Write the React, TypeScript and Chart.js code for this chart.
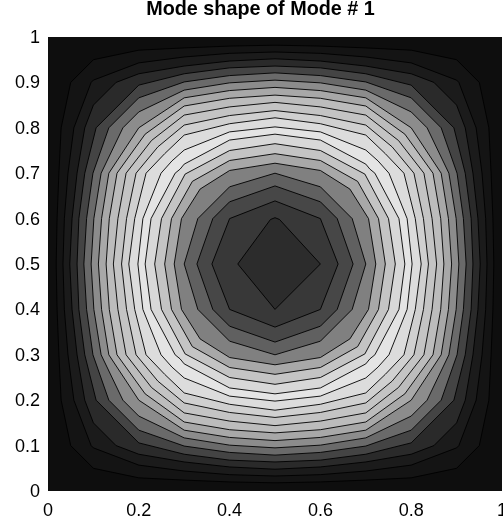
import React, { useEffect, useRef } from "react";
import { Chart, registerables } from "chart.js";

Chart.register(...registerables);

// Contour vertices, one octant of each loop, [x, y] in data units.
const outer01 = [[0.5, 0.982], [0.4, 0.98], [0.3, 0.976], [0.2, 0.971], [0.1, 0.95]];
const outer02 = [[0.5, 0.967], [0.4, 0.964], [0.3, 0.956], [0.2, 0.943], [0.1, 0.905]];
const outer03 = [[0.5, 0.952], [0.4, 0.947], [0.3, 0.936], [0.2, 0.919], [0.15, 0.9]];
const outer04 = [[0.5, 0.936], [0.4, 0.932], [0.3, 0.919], [0.2, 0.894]];
const outer05 = [[0.5, 0.921], [0.4, 0.915], [0.3, 0.901], [0.2, 0.866]];
const outer06 = [[0.5, 0.905], [0.4, 0.899], [0.3, 0.883], [0.2, 0.835]];
const outer07 = [[0.5, 0.889], [0.4, 0.882], [0.3, 0.866], [0.2, 0.8]];
const outer08 = [[0.5, 0.872], [0.4, 0.865], [0.3, 0.848], [0.214, 0.786]];
const outer09 = [[0.5, 0.856], [0.4, 0.846], [0.3, 0.828], [0.228, 0.772]];
const outer10 = [[0.5, 0.838], [0.4, 0.827], [0.3, 0.806], [0.242, 0.758]];
const outer11 = [[0.5, 0.822], [0.4, 0.809], [0.3, 0.784], [0.257, 0.743]];
const outer12 = [[0.5, 0.802], [0.4, 0.791], [0.3, 0.751], [0.273, 0.727]];
const inner12 = [[0.5, 0.786], [0.4, 0.773], [0.3, 0.72], [0.291, 0.709]];
const inner11 = [[0.5, 0.765], [0.4, 0.75], [0.302, 0.698]];
const inner10 = [[0.5, 0.743], [0.4, 0.728], [0.318, 0.682]];
const inner09 = [[0.5, 0.722], [0.4, 0.706], [0.335, 0.665]];
const inner08 = [[0.5, 0.7], [0.4, 0.67]];
const inner07 = [[0.5, 0.672], [0.4, 0.637]];
const inner06 = [[0.5, 0.639], [0.4, 0.6]];
const centreDiamond = [[0.49, 0.598], [0.5, 0.602], [0.51, 0.598], [0.6, 0.5], [0.5, 0.4], [0.418, 0.5], [0.49, 0.598]];

const outerLoops = [outer01, outer02, outer03, outer04, outer05, outer06, outer07, outer08, outer09, outer10, outer11, outer12];
const innerLoops = [inner12, inner11, inner10, inner09, inner08, inner07, inner06];

const baseBand = "#0e0e0e";
const outerBands = ["#141414", "#1b1b1b", "#2a2a2a", "#444444", "#6a6a6a", "#8c8c8c", "#a8a8a8", "#bcbcbc", "#c4c4c4", "#d0d0d0", "#dcdcdc", "#e4e4e4"];
const innerBands = ["#d8d8d8", "#c4c4c4", "#a8a8a8", "#808080", "#606060", "#474747", "#383838"];
const diamondBand = "#2c2c2c";
const titleText = "Mode shape of Mode # 1";
const xTicks = [0, 0.2, 0.4, 0.6, 0.8, 1];
const yTicks = [0, 0.1, 0.2, 0.3, 0.4, 0.5, 0.6, 0.7, 0.8, 0.9, 1];

type P = { x: number; y: number };

function fullLoop(octant: number[][]): P[] {
  const first = octant.map(([x, y]) => ({ x, y }));
  const second = octant.map(([x, y]) => ({ x: 1 - y, y: 1 - x })).reverse();
  const q = [...first, ...second];
  const quarter = q.filter((p, i) => i === 0 || Math.abs(p.x - q[i - 1].x) + Math.abs(p.y - q[i - 1].y) > 1e-9);
  return [
    ...quarter,
    ...[...quarter].reverse().map((p) => ({ x: p.x, y: 1 - p.y })),
    ...quarter.map((p) => ({ x: 1 - p.x, y: 1 - p.y })),
    ...[...quarter].reverse().map((p) => ({ x: 1 - p.x, y: p.y })),
  ];
}

const makeSet = (data: P[], color: string, label: string) => ({
  label,
  data,
  showLine: true,
  pointRadius: 0,
  borderColor: "#000000",
  borderWidth: 0.9,
  backgroundColor: color,
  fill: "shape",
  tension: 0,
});

export default function App() {
  const ref = useRef<HTMLCanvasElement>(null);
  useEffect(() => {
    const painted = [
      ...outerLoops.map((o, i) => makeSet(fullLoop(o), outerBands[i], `outer ${i + 1}`)),
      ...innerLoops.map((o, i) => makeSet(fullLoop(o), innerBands[i], `inner ${i + 1}`)),
      makeSet(centreDiamond.map(([x, y]) => ({ x, y })), diamondBand, "centre"),
    ];
    // Chart.js paints the last dataset first.
    const datasets = [...painted].reverse();
    const plotBackground = {
      id: "plotBackground",
      afterLayout(c: any) {
        if (c.titleBlock) {
          c.titleBlock.left -= 14.5;
          c.titleBlock.right -= 14.5;
        }
      },
      beforeDatasetsDraw(c: any) {
        const { ctx, chartArea: a } = c;
        ctx.save();
        ctx.fillStyle = baseBand;
        ctx.fillRect(a.left, a.top, a.width, a.height);
        ctx.restore();
      },
    };
    const noPad = (s: any) => {
      s.paddingLeft = 0;
      s.paddingRight = 0;
      s.paddingTop = 0;
      s.paddingBottom = 0;
    };
    const chart = new Chart(ref.current!, {
      type: "scatter",
      data: { datasets },
      plugins: [plotBackground],
      options: {
        animation: false,
        responsive: false,
        layout: { padding: { top: 0, right: 1, left: 0, bottom: 0 } },
        plugins: {
          legend: { display: false },
          tooltip: { enabled: false },
          title: {
            display: true,
            text: titleText,
            color: "#000000",
            fullSize: false,
            font: { family: "Liberation Sans", size: 19.8, weight: "bold", lineHeight: 1 },
            padding: { top: 0, bottom: 17.2 },
          },
        },
        scales: {
          x: {
            type: "linear",
            min: 0,
            max: 1,
            grid: { display: false, drawTicks: false },
            border: { display: false },
            afterFit(s: any) {
              s.height = 32;
              noPad(s);
            },
            afterBuildTicks(s: any) {
              s.ticks = xTicks.map((value) => ({ value }));
            },
            ticks: {
              maxRotation: 0,
              padding: 9,
              color: "#000000",
              autoSkip: false,
              font: { family: "Liberation Sans", size: 18 },
              callback: (v: any) => String(v),
            },
          },
          y: {
            type: "linear",
            min: 0,
            max: 1,
            grid: { display: false, drawTicks: false },
            border: { display: false },
            afterFit(s: any) {
              s.width = 48;
              noPad(s);
            },
            afterBuildTicks(s: any) {
              s.ticks = yTicks.map((value) => ({ value }));
            },
            ticks: {
              padding: 8,
              labelOffset: 1,
              color: "#000000",
              autoSkip: false,
              font: { family: "Liberation Sans", size: 18 },
              callback: (v: any) => String(v),
            },
          },
        },
      } as any,
    });
    return () => chart.destroy();
  }, []);
  return (
    <canvas
      ref={ref}
      width={503}
      height={523}
      style={{ position: "absolute", left: 0, top: 0, display: "block" }}
    />
  );
}
